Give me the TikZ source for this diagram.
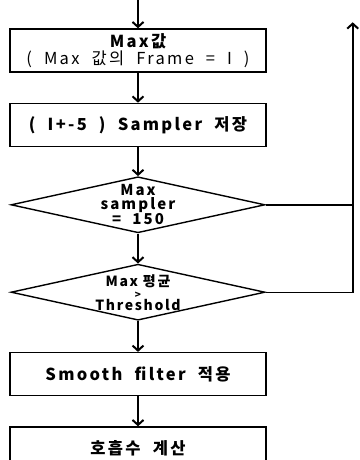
\documentclass[tikz,border=0pt]{standalone}
\usepackage{fontspec}
\setmainfont{Noto Sans CJK KR}
\newfontfamily\boxfont{Noto Sans CJK KR}[LetterSpace=14, WordSpace=2.0]
\newfontfamily\tightfont{Noto Sans CJK KR}[LetterSpace=12]
\usetikzlibrary{calc}
\usetikzlibrary{positioning}
\usetikzlibrary{shapes.geometric}
\usetikzlibrary{arrows.meta}

\begin{document}
\begin{tikzpicture}[
    box/.style={rectangle, draw, line width=1.4pt, minimum width=256pt, minimum height=43pt, inner sep=0pt, align=center, font=\boxfont\bfseries\fontsize{16.5}{17}\selectfont},
    decision/.style={diamond, draw, line width=1.4pt, minimum width=254pt, minimum height=56pt, inner sep=0pt},
    flow/.style={line width=2pt, -{Straight Barb[length=5pt,width=11pt,line width=2pt]}},
    node distance=30pt
  ]
    \useasboundingbox (0,0) rectangle (359pt,-460pt);

    % Define nodes
    \node[box] (maxval) at (138pt,-50.5pt) {Max값\\{\mdseries ( Max 값의 Frame = I )}};
    \node[box, below=of maxval] (store) {( I+-5 ) Sampler 저장};
    \node[decision, below=29pt of store, label={[align=center, font=\boxfont\bfseries\fontsize{15}{14}\selectfont]center:Max\\sampler\\= 150}] (full) {};
    \node[decision, below=of full, label={[align=center, font=\tightfont\bfseries\fontsize{14}{12}\selectfont]center:Max 평균\\{\fontsize{10}{8}\selectfont >}\\Threshold}] (cond) {};
    \node[box, below=31pt of cond] (smooth) {Smooth filter 적용};
    \node[box, below=of smooth] (rate) {호흡수 계산};
    \coordinate[above=29pt of maxval.north] (start);
    \coordinate (back) at ($(maxval.north east)+(86pt,6pt)$);

    % Connect the nodes
    \draw[flow] (start) -- (maxval);
    \draw[flow] (maxval) -- (store);
    \draw[flow] (store) -- (full);
    \draw[flow] (full) -- (cond);
    \draw[flow] (cond) -- (smooth);
    \draw[flow] (smooth) -- (rate);
    \draw[line width=1.4pt] (full.east) -- (full.east -| back);
    \draw[line width=1.4pt] (cond.east) -- (cond.east -| back);
    \draw[flow] ([yshift=-0.7pt]cond.east -| back) -- (back);

  \end{tikzpicture}
\end{document}
